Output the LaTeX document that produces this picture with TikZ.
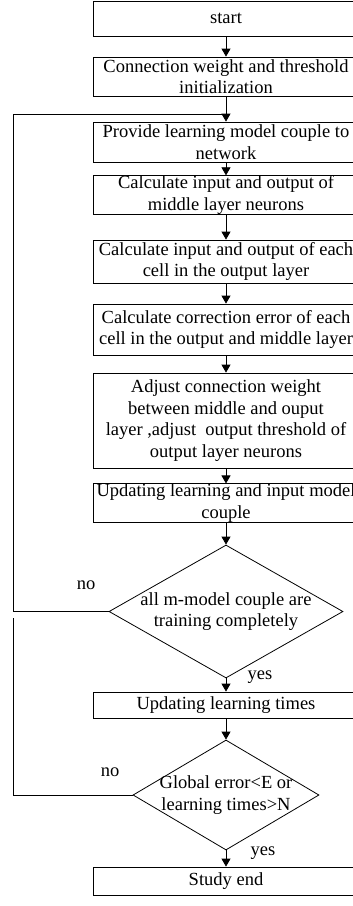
\documentclass[tikz,border=0pt]{standalone}
\usepackage{fontspec}
\setmainfont{Liberation Serif}
\usetikzlibrary{arrows.meta,shapes.geometric}

\begin{document}
\begin{tikzpicture}[x=1pt,y=-1pt,line width=0.8pt,
    every node/.style={font=\fontsize{18.5}{21.5}\selectfont},
    stepbox/.style={draw,rectangle,minimum width=266pt,inner sep=0pt,align=center},
    decision/.style={draw,diamond,inner sep=0pt},
    flow/.style={-{Triangle[width=9pt,length=8pt]}}]
    \useasboundingbox (0,0) rectangle (353,906);
    \clip (0,0) rectangle (353,906);
    % boxes
    \node[stepbox,minimum height=35pt] (start) at (226,18.5) {start};
    \node[stepbox,minimum height=39pt] (init) at (226,76.5)
    {Connection weight and threshold\\initialization};
    \node[stepbox,minimum height=40pt] (provide) at (226,142)
    {Provide learning model couple to\\network};
    \node[stepbox,minimum height=36pt] (midcalc) at (226,195)
    {Calculate input and output of\\middle layer neurons};
    \node[stepbox,minimum height=43pt] (outcalc) at (226,261.5)
    {Calculate input and output of each\\cell in the output layer};
    \node[stepbox,minimum height=51pt] (errcalc) at (226,329.5)
    {Calculate correction error of each\\cell in the output and middle layer};
    \node[stepbox,minimum height=95pt] (adjust) at (226,420.5)
    {Adjust connection weight\\between middle and ouput\\layer ,adjust\ \ output threshold of\\output layer neurons};
    \node[stepbox,minimum height=38pt] (update) at (226,503)
    {Updating learning and input model\\couple};
    \node[decision,minimum width=234pt,minimum height=133pt] (allpairs) at (226,611.5) {};
    \node[align=center] (allpairstext) at (allpairs)
    {all m-model couple are\\training completely};
    \node[stepbox,minimum height=26pt] (times) at (226,705) {Updating learning times};
    \node[decision,minimum width=186pt,minimum height=110pt] (global) at (226,795) {};
    \node[align=center] (globaltext) at (global)
    {Global error<E or\\learning times>N};
    \node[stepbox,minimum height=28pt] (finish) at (226,881) {Study end};
    % labels
    \node (no1) at (86,585) {no};
    \node (yes1) at (260,677) {yes};
    \node (no2) at (110,772) {no};
    \node (yes2) at (263,853) {yes};
    % arrows
    \draw[flow] (start) -- (init);
    \draw[flow] (init) -- (provide);
    \draw[flow] (provide) -- (midcalc);
    \draw[flow] (midcalc) -- (outcalc);
    \draw[flow] (outcalc) -- (errcalc);
    \draw[flow] (errcalc) -- (adjust);
    \draw[flow] (adjust) -- (update);
    \draw[flow] (update) -- (allpairs);
    \draw[flow] (allpairs) -- (times);
    \draw[flow] (times) -- (global);
    \draw[flow] (global) -- (finish);
    % loops back
    \coordinate (corner) at (13,114);
    \coordinate (merge) at (226,114);
    \coordinate (gap) at (13,618);
    \draw (allpairs.west) -| (corner) -- (merge);
    \draw (global.west) -| (gap);
  \end{tikzpicture}
\end{document}
